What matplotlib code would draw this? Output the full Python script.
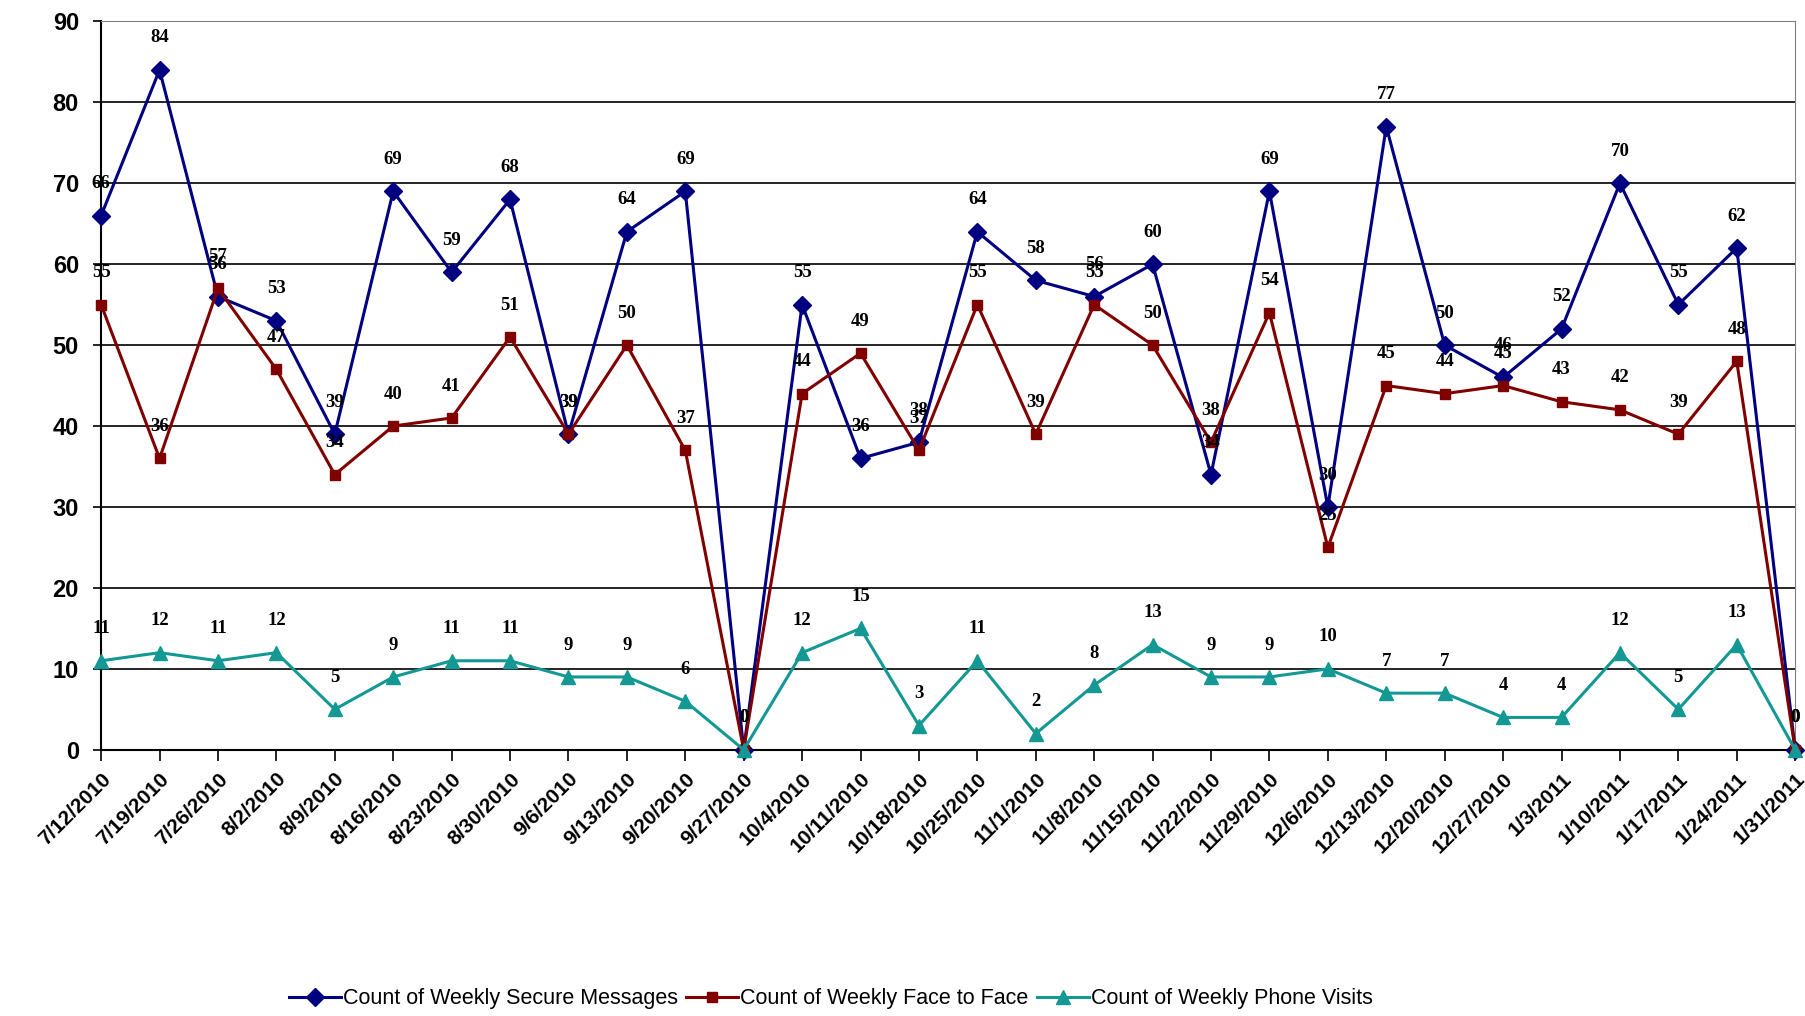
import numpy as np
import matplotlib
matplotlib.use('Agg')
import matplotlib.pyplot as plt

dates = ['7/12/2010', '7/19/2010', '7/26/2010', '8/2/2010', '8/9/2010', '8/16/2010',
         '8/23/2010', '8/30/2010', '9/6/2010', '9/13/2010', '9/20/2010', '9/27/2010',
         '10/4/2010', '10/11/2010', '10/18/2010', '10/25/2010', '11/1/2010', '11/8/2010',
         '11/15/2010', '11/22/2010', '11/29/2010', '12/6/2010', '12/13/2010', '12/20/2010',
         '12/27/2010', '1/3/2011', '1/10/2011', '1/17/2011', '1/24/2011', '1/31/2011']

secure = [66, 84, 56, 53, 39, 69, 59, 68, 39, 64, 69, 0, 55, 36, 38, 64, 58, 56, 60, 34,
          69, 30, 77, 50, 46, 52, 70, 55, 62, 0]
face = [55, 36, 57, 47, 34, 40, 41, 51, 39, 50, 37, 0, 44, 49, 37, 55, 39, 55, 50, 38,
        54, 25, 45, 44, 45, 43, 42, 39, 48, 0]
phone = [11, 12, 11, 12, 5, 9, 11, 11, 9, 9, 6, 0, 12, 15, 3, 11, 2, 8, 13, 9,
         9, 10, 7, 7, 4, 4, 12, 5, 13, 0]

x = np.arange(len(dates))

fig = plt.figure(figsize=(18.06, 10.16), dpi=100)
ax = fig.add_axes([0.056, 0.262, 0.938, 0.717])

series = [
    (secure, '#000080', 'D', 9, 'Count of Weekly Secure Messages'),
    (face, '#800000', 's', 7, 'Count of Weekly Face to Face'),
    (phone, '#139893', '^', 10, 'Count of Weekly Phone Visits'),
]
for vals, col, mk, ms, lab in series:
    ax.plot(x, vals, color=col, marker=mk, markersize=ms, linewidth=2.2, label=lab,
            clip_on=False, zorder=3)
    for xi, v in zip(x, vals):
        ax.annotate(str(v), (xi, v), xytext=(0, 23), textcoords='offset points',
                    ha='center', va='center', fontsize=13.5, fontweight='bold',
                    family='Liberation Serif', zorder=4)

ax.set_xlim(0, len(dates) - 1)
ax.set_ylim(0, 90)
ax.set_yticks(np.arange(0, 91, 10))
ax.set_xticks(x)
ax.set_xticklabels(dates, rotation=45, ha='right', rotation_mode='anchor',
                   fontsize=15, fontweight='bold', family='Liberation Sans')
for t in ax.get_yticklabels():
    t.set_fontsize(17)
    t.set_fontweight('bold')
    t.set_family('Liberation Sans')
ax.tick_params(axis='x', length=8, width=1.2, pad=6)
ax.tick_params(axis='y', length=6, width=1.2, pad=10)
ax.yaxis.grid(True, color='black', linewidth=1.2)
ax.set_axisbelow(True)
for s in ['top', 'right']:
    ax.spines[s].set_color('#808080')
ax.spines['left'].set_linewidth(1.5)
ax.spines['bottom'].set_linewidth(1.5)

leg = fig.legend(loc='center', bbox_to_anchor=(0.46, 0.017), ncol=3, frameon=False,
                 handlelength=2.4, handletextpad=0.1, columnspacing=0.4,
                 prop={'family': 'Liberation Sans', 'size': 15.5})

fig.savefig('out.png', dpi=100)
